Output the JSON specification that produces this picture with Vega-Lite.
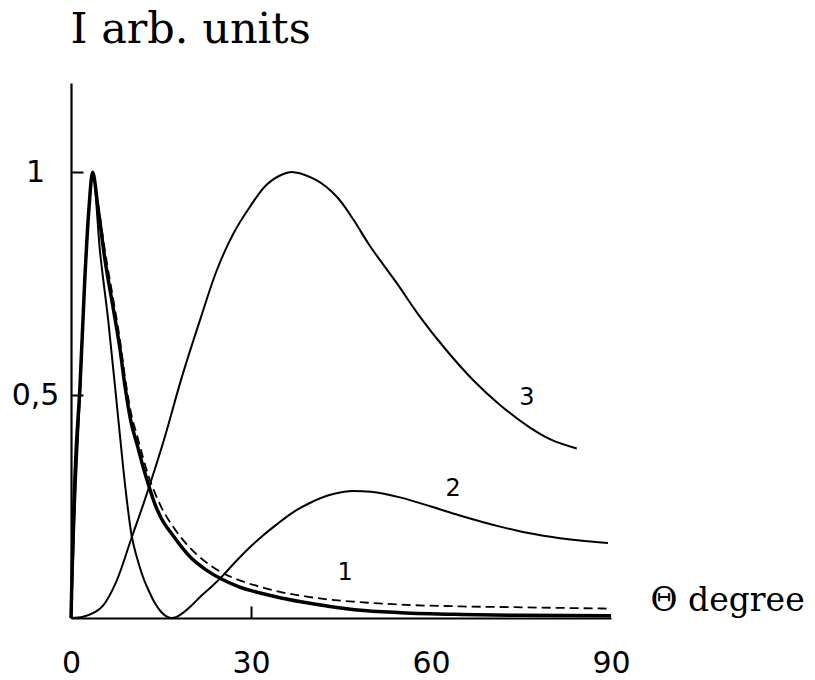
{
  "$schema": "https://vega.github.io/schema/vega-lite/v6.json",
  "width": 540,
  "height": 535,
  "autosize": {"type": "none"},
  "padding": {"left": 71, "top": 83, "right": 204, "bottom": 62},
  "background": "white",
  "config": {
    "view": {"stroke": null},
    "axis": {
      "grid": false,
      "domainColor": "black",
      "domainWidth": 2.2,
      "tickColor": "black",
      "tickWidth": 2,
      "labelColor": "black",
      "titleColor": "black",
      "labelFont": "DejaVu Sans",
      "titleFont": "DejaVu Serif",
      "titleFontWeight": "normal"
    }
  },
  "datasets": {
    "curves": [
      {"curve": "1", "theta": 0, "I": 0}, {"curve": "1", "theta": 0.4, "I": 0.22}, {"curve": "1", "theta": 0.8, "I": 0.36}, {"curve": "1", "theta": 1.5, "I": 0.52}, {"curve": "1", "theta": 2.3, "I": 0.76}, {"curve": "1", "theta": 3, "I": 0.92}, {"curve": "1", "theta": 3.6, "I": 1.0}, {"curve": "1", "theta": 4.5, "I": 0.92}, {"curve": "1", "theta": 5.7, "I": 0.8}, {"curve": "1", "theta": 7.1, "I": 0.69}, {"curve": "1", "theta": 8.2, "I": 0.6}, {"curve": "1", "theta": 9, "I": 0.52}, {"curve": "1", "theta": 10, "I": 0.44}, {"curve": "1", "theta": 11, "I": 0.39}, {"curve": "1", "theta": 12, "I": 0.34}, {"curve": "1", "theta": 13, "I": 0.295}, {"curve": "1", "theta": 14, "I": 0.255}, {"curve": "1", "theta": 15, "I": 0.225}, {"curve": "1", "theta": 17, "I": 0.185}, {"curve": "1", "theta": 20, "I": 0.135}, {"curve": "1", "theta": 22.5, "I": 0.108}, {"curve": "1", "theta": 25, "I": 0.088}, {"curve": "1", "theta": 28, "I": 0.07}, {"curve": "1", "theta": 31.5, "I": 0.056}, {"curve": "1", "theta": 35, "I": 0.045}, {"curve": "1", "theta": 39.8, "I": 0.033}, {"curve": "1", "theta": 44, "I": 0.024}, {"curve": "1", "theta": 47.7, "I": 0.018}, {"curve": "1", "theta": 55, "I": 0.012}, {"curve": "1", "theta": 65, "I": 0.008}, {"curve": "1", "theta": 75, "I": 0.006}, {"curve": "1", "theta": 90, "I": 0.005},

      {"curve": "1d", "theta": 0, "I": 0}, {"curve": "1d", "theta": 0.4, "I": 0.22}, {"curve": "1d", "theta": 0.8, "I": 0.36}, {"curve": "1d", "theta": 1.5, "I": 0.52}, {"curve": "1d", "theta": 2.3, "I": 0.76}, {"curve": "1d", "theta": 3, "I": 0.92}, {"curve": "1d", "theta": 3.6, "I": 1.0}, {"curve": "1d", "theta": 4.5, "I": 0.93}, {"curve": "1d", "theta": 5.7, "I": 0.82}, {"curve": "1d", "theta": 7.1, "I": 0.71}, {"curve": "1d", "theta": 8.2, "I": 0.62}, {"curve": "1d", "theta": 9, "I": 0.54}, {"curve": "1d", "theta": 10, "I": 0.46}, {"curve": "1d", "theta": 11, "I": 0.41}, {"curve": "1d", "theta": 12, "I": 0.36}, {"curve": "1d", "theta": 13, "I": 0.315}, {"curve": "1d", "theta": 14, "I": 0.28}, {"curve": "1d", "theta": 15, "I": 0.25}, {"curve": "1d", "theta": 17, "I": 0.205}, {"curve": "1d", "theta": 20, "I": 0.155}, {"curve": "1d", "theta": 22.5, "I": 0.125}, {"curve": "1d", "theta": 25, "I": 0.103}, {"curve": "1d", "theta": 28, "I": 0.085}, {"curve": "1d", "theta": 31.5, "I": 0.07}, {"curve": "1d", "theta": 35, "I": 0.058}, {"curve": "1d", "theta": 39.8, "I": 0.047}, {"curve": "1d", "theta": 44, "I": 0.04}, {"curve": "1d", "theta": 47.7, "I": 0.036}, {"curve": "1d", "theta": 55, "I": 0.03}, {"curve": "1d", "theta": 65, "I": 0.026}, {"curve": "1d", "theta": 75, "I": 0.024}, {"curve": "1d", "theta": 90, "I": 0.021},

      {"curve": "2", "theta": 0, "I": 0}, {"curve": "2", "theta": 0.8, "I": 0.3}, {"curve": "2", "theta": 1.5, "I": 0.5}, {"curve": "2", "theta": 2.3, "I": 0.76}, {"curve": "2", "theta": 3, "I": 0.92}, {"curve": "2", "theta": 3.6, "I": 1.0}, {"curve": "2", "theta": 4.85, "I": 0.82}, {"curve": "2", "theta": 6.2, "I": 0.668}, {"curve": "2", "theta": 7.9, "I": 0.444}, {"curve": "2", "theta": 9, "I": 0.3}, {"curve": "2", "theta": 10.1, "I": 0.185}, {"curve": "2", "theta": 11, "I": 0.135}, {"curve": "2", "theta": 12, "I": 0.092}, {"curve": "2", "theta": 13, "I": 0.06}, {"curve": "2", "theta": 14, "I": 0.033}, {"curve": "2", "theta": 15, "I": 0.014}, {"curve": "2", "theta": 16, "I": 0.003}, {"curve": "2", "theta": 16.8, "I": 0}, {"curve": "2", "theta": 17.5, "I": 0.002}, {"curve": "2", "theta": 18.5, "I": 0.01}, {"curve": "2", "theta": 20, "I": 0.027}, {"curve": "2", "theta": 21.5, "I": 0.047}, {"curve": "2", "theta": 23.5, "I": 0.071}, {"curve": "2", "theta": 25.3, "I": 0.095}, {"curve": "2", "theta": 27, "I": 0.12}, {"curve": "2", "theta": 29.3, "I": 0.152}, {"curve": "2", "theta": 32, "I": 0.185}, {"curve": "2", "theta": 34.3, "I": 0.21}, {"curve": "2", "theta": 37, "I": 0.237}, {"curve": "2", "theta": 39.8, "I": 0.258}, {"curve": "2", "theta": 43.7, "I": 0.278}, {"curve": "2", "theta": 47, "I": 0.285}, {"curve": "2", "theta": 50, "I": 0.283}, {"curve": "2", "theta": 55, "I": 0.27}, {"curve": "2", "theta": 60, "I": 0.25}, {"curve": "2", "theta": 64.8, "I": 0.23}, {"curve": "2", "theta": 71.5, "I": 0.205}, {"curve": "2", "theta": 76, "I": 0.191}, {"curve": "2", "theta": 81.5, "I": 0.179}, {"curve": "2", "theta": 86, "I": 0.172}, {"curve": "2", "theta": 89.5, "I": 0.168},

      {"curve": "3", "theta": 0, "I": 0}, {"curve": "3", "theta": 2, "I": 0.003}, {"curve": "3", "theta": 4, "I": 0.013}, {"curve": "3", "theta": 5.3, "I": 0.027}, {"curve": "3", "theta": 7.5, "I": 0.08}, {"curve": "3", "theta": 10.1, "I": 0.18}, {"curve": "3", "theta": 12.3, "I": 0.265}, {"curve": "3", "theta": 15.5, "I": 0.4}, {"curve": "3", "theta": 18.4, "I": 0.537}, {"curve": "3", "theta": 21.5, "I": 0.668}, {"curve": "3", "theta": 24.3, "I": 0.78}, {"curve": "3", "theta": 27.05, "I": 0.862}, {"curve": "3", "theta": 29.8, "I": 0.922}, {"curve": "3", "theta": 32.6, "I": 0.972}, {"curve": "3", "theta": 35.4, "I": 0.996}, {"curve": "3", "theta": 37.1, "I": 1.0}, {"curve": "3", "theta": 40.9, "I": 0.982}, {"curve": "3", "theta": 44.3, "I": 0.945}, {"curve": "3", "theta": 47, "I": 0.895}, {"curve": "3", "theta": 49.8, "I": 0.835}, {"curve": "3", "theta": 54.3, "I": 0.751}, {"curve": "3", "theta": 58.2, "I": 0.675}, {"curve": "3", "theta": 62.6, "I": 0.6}, {"curve": "3", "theta": 67, "I": 0.534}, {"curve": "3", "theta": 71.5, "I": 0.478}, {"curve": "3", "theta": 76.5, "I": 0.427}, {"curve": "3", "theta": 80, "I": 0.4}, {"curve": "3", "theta": 84.3, "I": 0.38}
    ],
    "labels": [
      {"label": "1", "theta": 45.7, "I": 0.1},
      {"label": "2", "theta": 63.7, "I": 0.29},
      {"label": "3", "theta": 76, "I": 0.493}
    ]
  },
  "encoding": {
    "x": {
      "field": "theta",
      "type": "quantitative",
      "scale": {"domain": [0, 90], "nice": false},
      "axis": {
        "values": [0, 30, 60, 90],
        "tickSize": -12,
        "tickOpacity": {"expr": "datum.value === 30 ? 1 : 0"},
        "labelFontSize": 30,
        "labelPadding": 42,
        "labelFlush": false,
        "title": "Θ degree",
        "titleFontSize": 33,
        "titleAngle": 0,
        "titleAlign": "left",
        "titleBaseline": "alphabetic",
        "titleX": 579,
        "titleY": -8
      }
    },
    "y": {
      "field": "I",
      "type": "quantitative",
      "scale": {"domain": [0, 1.2], "nice": false},
      "axis": {
        "values": [0.5, 1],
        "tickSize": -12,
        "labelExpr": "replace(format(datum.value, '.1~f'), '.', ',')",
        "labelFontSize": 30,
        "labelAlign": "center",
        "labelPadding": 48,
        "labelFlush": false,
        "title": "I arb. units",
        "titleFontSize": 43,
        "titleAngle": 0,
        "titleAlign": "left",
        "titleBaseline": "alphabetic",
        "titleX": -1,
        "titleY": -41
      }
    }
  },
  "layer": [
    {
      "data": {"name": "curves"},
      "transform": [{"filter": "datum.curve === '3'"}],
      "mark": {"type": "line", "color": "black", "strokeWidth": 2, "interpolate": "catmull-rom"}
    },
    {
      "data": {"name": "curves"},
      "transform": [{"filter": "datum.curve === '2'"}],
      "mark": {"type": "line", "color": "black", "strokeWidth": 2, "interpolate": "monotone"}
    },
    {
      "data": {"name": "curves"},
      "transform": [{"filter": "datum.curve === '1d'"}],
      "mark": {"type": "line", "color": "black", "strokeWidth": 1.8, "strokeDash": [9, 5], "interpolate": "monotone"}
    },
    {
      "data": {"name": "curves"},
      "transform": [{"filter": "datum.curve === '1'"}],
      "mark": {"type": "line", "color": "black", "strokeWidth": 3.5, "interpolate": "monotone"}
    },
    {
      "data": {"name": "labels"},
      "mark": {"type": "text", "color": "black", "font": "DejaVu Sans", "fontSize": 24, "align": "center", "baseline": "middle"},
      "encoding": {"text": {"field": "label"}}
    }
  ]
}
